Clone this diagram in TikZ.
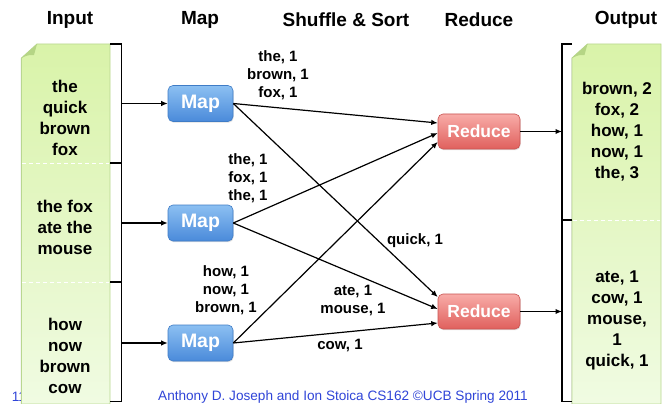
\documentclass[tikz,border=0pt]{standalone}
\usepackage{fontspec}
\setmainfont{Liberation Sans}
\usetikzlibrary{arrows.meta,calc,shadows}
\definecolor{mapT}{HTML}{8CC0F2}
\definecolor{mapB}{HTML}{4A8ADA}
\definecolor{mapD}{HTML}{3F7CC6}
\definecolor{redT}{HTML}{F8ACA8}
\definecolor{redB}{HTML}{E0605D}
\definecolor{redD}{HTML}{C85452}
\definecolor{papT}{HTML}{D9F3A9}
\definecolor{papB}{HTML}{F0FBE2}
\definecolor{papD}{HTML}{B9D790}
\definecolor{foldC}{HTML}{B5D585}
\definecolor{footC}{HTML}{3045D8}
\tikzset{
  mapbox/.style={draw=mapD, line width=0.6pt, rounded corners=5pt,
    top color=mapT, bottom color=mapB, minimum width=65pt, minimum height=36pt,
    inner sep=0pt, text=white, font=\bfseries\fontsize{19.5}{19.5}\selectfont,
    drop shadow={opacity=0.25, shadow xshift=0.6pt, shadow yshift=-1.2pt}},
  redbox/.style={draw=redD, line width=0.6pt, rounded corners=5pt,
    top color=redT, bottom color=redB, minimum width=82pt, minimum height=35pt,
    inner sep=0pt, text=white, font=\bfseries\fontsize{17.5}{17.5}\selectfont,
    drop shadow={opacity=0.25, shadow xshift=0.6pt, shadow yshift=-1.2pt}},
  paper/.style={draw=papD, line width=0.8pt, top color=papT, bottom color=papB},
  hdr/.style={font=\bfseries\fontsize{19}{19}\selectfont, inner sep=0pt},
  ptext/.style={font=\bfseries\fontsize{17}{21}\selectfont, align=center, inner sep=0pt},
  lbl/.style={font=\bfseries\fontsize{15}{18}\selectfont, align=center, inner sep=0pt},
  conn/.style={line width=1.2pt, -{Latex[length=6.5pt,width=5.5pt]}},
  brk/.style={line width=1.2pt},
  divider/.style={white, line width=0.8pt, dash pattern=on 4pt off 3pt},
  foot/.style={text=footC, font=\fontsize{13.6}{13.6}\selectfont, inner sep=0pt}
}
\begin{document}
\begin{tikzpicture}[x=1pt,y=-1pt]
\useasboundingbox (0,0) rectangle (662,404);
\fill[white] (0,0) rectangle (662,404);

% headers
\node[hdr] (hIn) at (70,20) {Input};
\node[hdr] (hMap) at (200,20) {Map};
\node[hdr] (hSh) at (346,20) {Shuffle \& Sort};
\node[hdr] (hRed) at (479,20) {Reduce};
\node[hdr] (hOut) at (626,20) {Output};

% slide number (partly under paper)
\node[foot] (num) at (19,397) {11};

% input paper
\path[paper, drop shadow={opacity=0.2, shadow xshift=-1pt, shadow yshift=-0.5pt}]
  (21.5,58) -- (37,44) -- (110,44) -- (110,404) -- (21.5,404) -- cycle;
\fill[foldC] (21.5,58) -- (37,44) .. controls (35,49) .. (34,55) .. controls (28,55) .. cycle;
\draw[divider] (22,163) -- (109,163);
\draw[divider] (22,282) -- (109,282);

% output paper
\path[paper, drop shadow={opacity=0.2, shadow xshift=-1pt, shadow yshift=-0.5pt}]
  (572,58) -- (587.5,44) -- (661,44) -- (661,404) -- (572,404) -- cycle;
\fill[foldC] (572,58) -- (587.5,44) .. controls (585.5,49) .. (584.5,55) .. controls (578.5,55) .. cycle;
\draw[divider] (573,220) -- (660,220);

% input texts
\node[ptext] (in1) at (65,118) {the\\quick\\brown\\fox};
\node[ptext] (in2) at (65,227.5) {the fox\\ate the\\mouse};
\node[ptext] (in3) at (65,356) {how\\now\\brown\\cow};

% output texts
\node[ptext] (out1) at (617,132) {brown, 2\\fox, 2\\how, 1\\now, 1\\the, 3};
\node[ptext] (out2) at (617,320) {ate, 1\\cow, 1\\mouse,\\1\\quick, 1};

% input brackets
\draw[brk] (110,44) -- (121.5,44) -- (121.5,163) -- (110,163);
\draw[brk] (110,163) -- (121.5,163) -- (121.5,282) -- (110,282);
\draw[brk] (110,282) -- (121.5,282) -- (121.5,401.5) -- (110,401.5);
\coordinate (ib1) at (121.5,103.5);
\coordinate (ib2) at (121.5,223);
\coordinate (ib3) at (121.5,343);

% output brackets
\draw[brk] (572,44) -- (562,44) -- (562,220) -- (572,220);
\draw[brk] (572,220) -- (562,220) -- (562,401.5) -- (572,401.5);
\coordinate (ob1) at (562,131.5);
\coordinate (ob2) at (562,311.5);

% map and reduce nodes
\node[mapbox] (m1) at (200.5,103.5) {Map};
\node[mapbox] (m2) at (200.5,223) {Map};
\node[mapbox] (m3) at (200.5,343) {Map};
\node[redbox] (r1) at (479,131.5) {Reduce};
\node[redbox] (r2) at (479,311.5) {Reduce};

% connectors
\draw[conn] (ib1) -- (m1.west);
\draw[conn] (ib2) -- (m2.west);
\draw[conn] (ib3) -- (m3.west);

\draw[conn] (m1.east) -- ($(r1.west)+(0,-8.5)$);
\draw[conn] (m2.east) -- ($(r1.west)+(0,1.5)$);
\draw[conn] (m3.east) -- ($(r1.west)+(0,10.5)$);
\draw[conn] (m1.east) -- ($(r2.west)+(0,-14.5)$);
\draw[conn] (m2.east) -- ($(r2.west)+(0,-2.5)$);
\draw[conn] (m3.east) -- ($(r2.west)+(0,11.5)$);

\draw[conn] (r1.east) -- (ob1);
\draw[conn] (r2.east) -- (ob2);

% connector labels
\node[lbl] (l1) at (278,75) {the, 1\\brown, 1\\fox, 1};
\node[lbl] (l2) at (248,178.5) {the, 1\\fox, 1\\the, 1};
\node[lbl] (l3) at (415,241) {quick, 1};
\node[lbl] (l4) at (226,290) {how, 1\\now, 1\\brown, 1};
\node[lbl] (l5) at (353,300.5) {ate, 1\\mouse, 1};
\node[lbl] (l6) at (340,345) {cow, 1};

% footer
\node[foot] (ft) at (343,397) {Anthony D. Joseph and Ion Stoica CS162 ©UCB Spring 2011};
\end{tikzpicture}
\end{document}
